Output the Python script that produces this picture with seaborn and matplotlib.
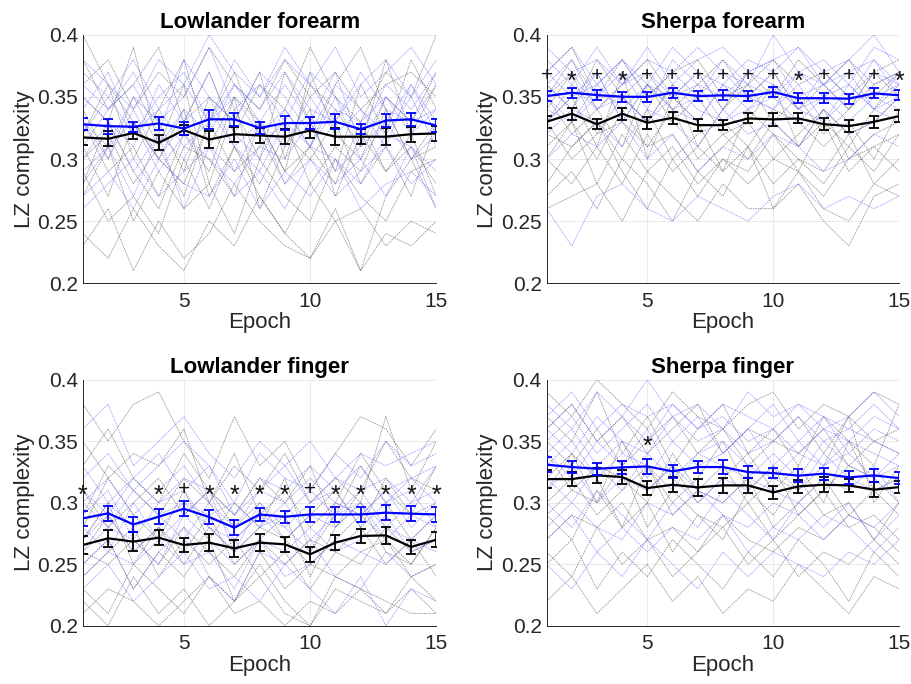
import numpy as np
import pandas as pd
import matplotlib
matplotlib.use("Agg")
import matplotlib.pyplot as plt
import seaborn as sns

epochs = list(range(1, 16))
titles = ["Lowlander forearm", "Sherpa forearm", "Lowlander finger", "Sherpa finger"]

# group means (black = one group, blue = the other)
black_mean = {
    "Lowlander forearm": [0.3174, 0.3163, 0.321, 0.313, 0.3233, 0.3157, 0.320, 0.319, 0.318, 0.323, 0.318, 0.318, 0.318, 0.320, 0.3206],
    "Sherpa forearm": [0.330, 0.3365, 0.328, 0.3365, 0.3292, 0.3332, 0.3273, 0.3273, 0.3327, 0.3319, 0.3327, 0.3281, 0.3265, 0.330, 0.3346],
    "Lowlander finger": [0.2657, 0.2711, 0.2684, 0.2716, 0.2657, 0.2676, 0.263, 0.2676, 0.2662, 0.2581, 0.2676, 0.273, 0.2735, 0.2641, 0.270],
    "Sherpa finger": [0.3192, 0.3192, 0.3222, 0.3209, 0.3119, 0.3146, 0.3125, 0.3141, 0.3141, 0.3084, 0.3133, 0.3146, 0.3141, 0.3106, 0.3127],
}
black_err = {
    "Lowlander forearm": [0.006, 0.006, 0.005, 0.006, 0.004, 0.007, 0.006, 0.006, 0.006, 0.006, 0.007, 0.006, 0.007, 0.006, 0.006],
    "Sherpa forearm": [0.005, 0.005, 0.004, 0.005, 0.005, 0.005, 0.005, 0.004, 0.004, 0.005, 0.004, 0.005, 0.005, 0.005, 0.005],
    "Lowlander finger": [0.007, 0.007, 0.008, 0.006, 0.006, 0.007, 0.007, 0.007, 0.006, 0.006, 0.006, 0.006, 0.007, 0.006, 0.006],
    "Sherpa finger": [0.007, 0.006, 0.006, 0.006, 0.006, 0.006, 0.007, 0.006, 0.006, 0.005, 0.005, 0.006, 0.005, 0.006, 0.005],
}
blue_mean = {
    "Lowlander forearm": [0.328, 0.3265, 0.326, 0.3287, 0.3246, 0.332, 0.332, 0.325, 0.329, 0.329, 0.330, 0.324, 0.331, 0.332, 0.327],
    "Sherpa forearm": [0.3507, 0.3534, 0.3515, 0.3502, 0.350, 0.3534, 0.3507, 0.3513, 0.3507, 0.354, 0.349, 0.349, 0.3486, 0.3529, 0.3513],
    "Lowlander finger": [0.2873, 0.2914, 0.2824, 0.2886, 0.2951, 0.2884, 0.2797, 0.2905, 0.2886, 0.2905, 0.2905, 0.2905, 0.2919, 0.2911, 0.2905],
    "Sherpa finger": [0.3309, 0.329, 0.3276, 0.3287, 0.3295, 0.3255, 0.329, 0.329, 0.3249, 0.3241, 0.322, 0.3236, 0.3206, 0.3222, 0.320],
}
blue_err = {
    "Lowlander forearm": [0.005, 0.006, 0.004, 0.005, 0.005, 0.0075, 0.005, 0.005, 0.006, 0.005, 0.006, 0.004, 0.005, 0.005, 0.005],
    "Sherpa forearm": [0.004, 0.004, 0.004, 0.004, 0.004, 0.004, 0.004, 0.004, 0.004, 0.004, 0.004, 0.004, 0.004, 0.004, 0.004],
    "Lowlander finger": [0.006, 0.006, 0.006, 0.006, 0.006, 0.006, 0.006, 0.005, 0.005, 0.006, 0.006, 0.006, 0.006, 0.006, 0.006],
    "Sherpa finger": [0.006, 0.005, 0.005, 0.005, 0.006, 0.005, 0.005, 0.006, 0.005, 0.004, 0.005, 0.005, 0.005, 0.005, 0.005],
}

# significance markers per epoch ("" = none) and their height
sig_marks = {
    "Lowlander forearm": [""] * 15,
    "Sherpa forearm": ["+", "*", "+", "*", "+", "+", "+", "+", "+", "+", "*", "+", "+", "+", "*"],
    "Lowlander finger": ["*", "", "", "*", "+", "*", "*", "*", "*", "+", "*", "*", "*", "*", "*"],
    "Sherpa finger": ["", "", "", "", "*", "", "", "", "", "", "", "", "", "", ""],
}
sig_y = {"Lowlander forearm": 0.37, "Sherpa forearm": 0.369, "Lowlander finger": 0.312, "Sherpa finger": 0.352}

# individual subjects (estimated traces)
black_subj = {
    "Lowlander forearm": [
        [0.35, 0.33, 0.39, 0.31, 0.36, 0.28, 0.34, 0.30, 0.37, 0.33, 0.29, 0.36, 0.32, 0.38, 0.34],
        [0.29, 0.25, 0.27, 0.24, 0.30, 0.26, 0.31, 0.27, 0.24, 0.28, 0.25, 0.21, 0.27, 0.30, 0.26],
        [0.32, 0.36, 0.30, 0.34, 0.38, 0.31, 0.35, 0.33, 0.29, 0.37, 0.32, 0.30, 0.35, 0.33, 0.37],
        [0.24, 0.22, 0.26, 0.23, 0.21, 0.25, 0.23, 0.27, 0.24, 0.22, 0.25, 0.26, 0.23, 0.25, 0.24],
        [0.38, 0.34, 0.36, 0.39, 0.33, 0.37, 0.32, 0.36, 0.34, 0.39, 0.35, 0.33, 0.37, 0.35, 0.40],
        [0.30, 0.32, 0.28, 0.31, 0.27, 0.33, 0.29, 0.31, 0.33, 0.28, 0.31, 0.29, 0.34, 0.30, 0.31],
        [0.33, 0.29, 0.31, 0.27, 0.32, 0.29, 0.35, 0.26, 0.31, 0.34, 0.27, 0.32, 0.29, 0.31, 0.28],
        [0.36, 0.38, 0.34, 0.37, 0.35, 0.39, 0.36, 0.34, 0.38, 0.35, 0.37, 0.34, 0.36, 0.37, 0.35],
        [0.27, 0.31, 0.25, 0.29, 0.26, 0.28, 0.24, 0.30, 0.27, 0.25, 0.30, 0.27, 0.25, 0.29, 0.30],
        [0.31, 0.27, 0.33, 0.30, 0.34, 0.27, 0.31, 0.28, 0.32, 0.30, 0.33, 0.28, 0.31, 0.27, 0.33],
        [0.40, 0.36, 0.33, 0.30, 0.28, 0.33, 0.37, 0.32, 0.28, 0.31, 0.36, 0.39, 0.34, 0.30, 0.33],
        [0.23, 0.26, 0.21, 0.25, 0.22, 0.24, 0.28, 0.25, 0.23, 0.22, 0.26, 0.21, 0.24, 0.23, 0.25],
        [0.34, 0.30, 0.35, 0.33, 0.29, 0.35, 0.33, 0.37, 0.30, 0.36, 0.34, 0.31, 0.38, 0.32, 0.36],
        [0.28, 0.33, 0.29, 0.26, 0.31, 0.30, 0.27, 0.33, 0.29, 0.31, 0.28, 0.33, 0.29, 0.32, 0.27],
    ],
    "Sherpa forearm": [
        [0.34, 0.37, 0.32, 0.35, 0.33, 0.36, 0.31, 0.34, 0.36, 0.33, 0.35, 0.32, 0.34, 0.37, 0.35],
        [0.27, 0.29, 0.26, 0.30, 0.28, 0.25, 0.29, 0.27, 0.31, 0.26, 0.28, 0.25, 0.23, 0.27, 0.28],
        [0.36, 0.34, 0.38, 0.35, 0.37, 0.34, 0.36, 0.38, 0.35, 0.37, 0.34, 0.36, 0.38, 0.35, 0.37],
        [0.31, 0.33, 0.30, 0.34, 0.31, 0.32, 0.29, 0.31, 0.33, 0.30, 0.32, 0.34, 0.30, 0.32, 0.33],
        [0.33, 0.35, 0.31, 0.37, 0.30, 0.35, 0.33, 0.29, 0.34, 0.32, 0.29, 0.33, 0.31, 0.34, 0.36],
        [0.26, 0.27, 0.28, 0.25, 0.29, 0.27, 0.25, 0.28, 0.26, 0.26, 0.29, 0.26, 0.25, 0.28, 0.27],
        [0.35, 0.32, 0.34, 0.31, 0.36, 0.33, 0.35, 0.32, 0.33, 0.36, 0.31, 0.34, 0.32, 0.33, 0.35],
        [0.30, 0.33, 0.28, 0.32, 0.29, 0.31, 0.28, 0.30, 0.29, 0.32, 0.30, 0.28, 0.31, 0.29, 0.32],
        [0.37, 0.39, 0.35, 0.38, 0.35, 0.37, 0.38, 0.35, 0.36, 0.38, 0.36, 0.37, 0.35, 0.37, 0.38],
        [0.32, 0.31, 0.33, 0.30, 0.34, 0.30, 0.32, 0.33, 0.31, 0.34, 0.33, 0.31, 0.33, 0.30, 0.34],
        [0.28, 0.31, 0.33, 0.29, 0.26, 0.30, 0.27, 0.30, 0.28, 0.30, 0.29, 0.27, 0.30, 0.31, 0.29],
        [0.35, 0.38, 0.34, 0.36, 0.38, 0.35, 0.37, 0.34, 0.37, 0.35, 0.38, 0.36, 0.34, 0.36, 0.37],
        [0.33, 0.30, 0.32, 0.33, 0.31, 0.34, 0.30, 0.32, 0.30, 0.33, 0.31, 0.33, 0.29, 0.31, 0.32],
        [0.30, 0.28, 0.31, 0.28, 0.32, 0.29, 0.31, 0.29, 0.31, 0.28, 0.30, 0.29, 0.32, 0.28, 0.30],
    ],
    "Lowlander finger": [
        [0.38, 0.35, 0.38, 0.39, 0.35, 0.32, 0.37, 0.33, 0.35, 0.31, 0.34, 0.37, 0.36, 0.33, 0.36],
        [0.22, 0.20, 0.24, 0.21, 0.23, 0.20, 0.22, 0.24, 0.21, 0.20, 0.23, 0.22, 0.21, 0.23, 0.21],
        [0.27, 0.30, 0.25, 0.28, 0.26, 0.29, 0.25, 0.27, 0.29, 0.24, 0.28, 0.30, 0.26, 0.25, 0.28],
        [0.25, 0.27, 0.23, 0.26, 0.24, 0.27, 0.22, 0.26, 0.23, 0.25, 0.24, 0.26, 0.27, 0.24, 0.25],
        [0.31, 0.28, 0.30, 0.32, 0.29, 0.31, 0.28, 0.30, 0.27, 0.29, 0.31, 0.28, 0.32, 0.29, 0.30],
        [0.24, 0.26, 0.28, 0.24, 0.27, 0.25, 0.27, 0.24, 0.26, 0.23, 0.26, 0.28, 0.25, 0.27, 0.24],
        [0.29, 0.33, 0.31, 0.29, 0.32, 0.30, 0.34, 0.29, 0.31, 0.28, 0.30, 0.34, 0.31, 0.29, 0.33],
        [0.21, 0.23, 0.22, 0.20, 0.22, 0.24, 0.21, 0.22, 0.20, 0.22, 0.21, 0.23, 0.22, 0.21, 0.21],
        [0.26, 0.25, 0.27, 0.25, 0.28, 0.26, 0.24, 0.27, 0.25, 0.27, 0.26, 0.25, 0.28, 0.26, 0.27],
        [0.33, 0.36, 0.32, 0.30, 0.34, 0.31, 0.29, 0.32, 0.30, 0.33, 0.28, 0.31, 0.35, 0.32, 0.31],
        [0.28, 0.32, 0.29, 0.27, 0.31, 0.27, 0.30, 0.28, 0.32, 0.26, 0.29, 0.33, 0.30, 0.27, 0.29],
        [0.23, 0.21, 0.25, 0.23, 0.21, 0.24, 0.22, 0.25, 0.22, 0.20, 0.24, 0.23, 0.21, 0.24, 0.22],
        [0.26, 0.29, 0.26, 0.28, 0.25, 0.28, 0.26, 0.28, 0.27, 0.25, 0.27, 0.29, 0.27, 0.25, 0.28],
        [0.35, 0.32, 0.34, 0.33, 0.36, 0.30, 0.33, 0.31, 0.34, 0.30, 0.32, 0.30, 0.37, 0.31, 0.35],
    ],
    "Sherpa finger": [
        [0.37, 0.35, 0.39, 0.34, 0.37, 0.33, 0.36, 0.38, 0.34, 0.36, 0.33, 0.37, 0.35, 0.33, 0.38],
        [0.25, 0.27, 0.23, 0.26, 0.24, 0.27, 0.25, 0.23, 0.26, 0.24, 0.27, 0.25, 0.22, 0.26, 0.24],
        [0.32, 0.34, 0.30, 0.35, 0.31, 0.33, 0.30, 0.32, 0.34, 0.31, 0.33, 0.30, 0.35, 0.31, 0.32],
        [0.29, 0.27, 0.31, 0.28, 0.30, 0.26, 0.29, 0.28, 0.30, 0.27, 0.29, 0.31, 0.28, 0.29, 0.27],
        [0.36, 0.38, 0.35, 0.37, 0.34, 0.36, 0.38, 0.34, 0.36, 0.35, 0.37, 0.34, 0.37, 0.35, 0.36],
        [0.22, 0.24, 0.21, 0.23, 0.25, 0.22, 0.24, 0.21, 0.23, 0.22, 0.25, 0.23, 0.21, 0.24, 0.23],
        [0.34, 0.31, 0.33, 0.32, 0.30, 0.34, 0.31, 0.33, 0.30, 0.32, 0.31, 0.33, 0.37, 0.30, 0.33],
        [0.30, 0.32, 0.29, 0.31, 0.33, 0.29, 0.31, 0.30, 0.32, 0.28, 0.30, 0.32, 0.29, 0.31, 0.29],
        [0.39, 0.37, 0.40, 0.38, 0.36, 0.39, 0.37, 0.36, 0.38, 0.39, 0.36, 0.38, 0.37, 0.39, 0.38],
        [0.27, 0.29, 0.28, 0.30, 0.27, 0.28, 0.26, 0.29, 0.27, 0.26, 0.28, 0.27, 0.29, 0.28, 0.26],
        [0.31, 0.34, 0.32, 0.28, 0.33, 0.30, 0.32, 0.35, 0.31, 0.33, 0.29, 0.31, 0.33, 0.32, 0.30],
        [0.26, 0.24, 0.28, 0.25, 0.27, 0.24, 0.26, 0.28, 0.25, 0.27, 0.24, 0.26, 0.25, 0.27, 0.25],
        [0.35, 0.33, 0.36, 0.33, 0.35, 0.37, 0.34, 0.36, 0.33, 0.35, 0.34, 0.36, 0.33, 0.35, 0.34],
        [0.29, 0.31, 0.30, 0.33, 0.28, 0.31, 0.29, 0.27, 0.31, 0.29, 0.32, 0.29, 0.30, 0.27, 0.30],
    ],
}
blue_subj = {
    "Lowlander forearm": [
        [0.36, 0.34, 0.37, 0.33, 0.35, 0.39, 0.34, 0.36, 0.33, 0.37, 0.35, 0.32, 0.36, 0.34, 0.37],
        [0.30, 0.33, 0.29, 0.32, 0.30, 0.34, 0.31, 0.29, 0.33, 0.31, 0.30, 0.28, 0.32, 0.31, 0.29],
        [0.33, 0.31, 0.35, 0.31, 0.34, 0.32, 0.36, 0.33, 0.31, 0.35, 0.32, 0.34, 0.31, 0.36, 0.33],
        [0.27, 0.29, 0.26, 0.30, 0.28, 0.27, 0.30, 0.26, 0.29, 0.27, 0.30, 0.26, 0.28, 0.29, 0.27],
        [0.38, 0.36, 0.34, 0.38, 0.36, 0.40, 0.37, 0.35, 0.38, 0.36, 0.39, 0.35, 0.37, 0.39, 0.36],
        [0.32, 0.35, 0.32, 0.34, 0.31, 0.33, 0.35, 0.32, 0.34, 0.31, 0.34, 0.33, 0.35, 0.32, 0.34],
        [0.29, 0.31, 0.33, 0.29, 0.32, 0.30, 0.28, 0.31, 0.30, 0.33, 0.29, 0.31, 0.33, 0.30, 0.32],
        [0.35, 0.33, 0.31, 0.36, 0.33, 0.35, 0.33, 0.37, 0.35, 0.32, 0.36, 0.34, 0.32, 0.35, 0.31],
        [0.26, 0.28, 0.30, 0.27, 0.29, 0.31, 0.27, 0.29, 0.26, 0.30, 0.28, 0.30, 0.27, 0.31, 0.26],
        [0.34, 0.37, 0.32, 0.35, 0.37, 0.33, 0.36, 0.34, 0.37, 0.34, 0.33, 0.37, 0.34, 0.33, 0.36],
        [0.31, 0.34, 0.36, 0.32, 0.38, 0.35, 0.31, 0.33, 0.36, 0.33, 0.37, 0.31, 0.35, 0.33, 0.34],
        [0.37, 0.35, 0.38, 0.34, 0.36, 0.33, 0.38, 0.35, 0.39, 0.36, 0.33, 0.36, 0.38, 0.35, 0.38],
        [0.28, 0.31, 0.27, 0.32, 0.26, 0.31, 0.29, 0.33, 0.28, 0.30, 0.27, 0.29, 0.31, 0.28, 0.30],
        [0.33, 0.30, 0.34, 0.30, 0.33, 0.37, 0.32, 0.30, 0.34, 0.31, 0.35, 0.30, 0.33, 0.36, 0.32],
    ],
    "Sherpa forearm": [
        [0.36, 0.38, 0.35, 0.37, 0.34, 0.38, 0.36, 0.35, 0.37, 0.38, 0.35, 0.36, 0.34, 0.37, 0.36],
        [0.33, 0.35, 0.37, 0.33, 0.36, 0.34, 0.33, 0.36, 0.34, 0.35, 0.33, 0.35, 0.37, 0.34, 0.33],
        [0.38, 0.36, 0.39, 0.36, 0.38, 0.37, 0.39, 0.37, 0.36, 0.40, 0.37, 0.38, 0.36, 0.39, 0.38],
        [0.34, 0.33, 0.35, 0.35, 0.33, 0.36, 0.34, 0.33, 0.35, 0.34, 0.36, 0.33, 0.35, 0.35, 0.34],
        [0.26, 0.23, 0.27, 0.28, 0.26, 0.25, 0.27, 0.26, 0.25, 0.27, 0.28, 0.26, 0.27, 0.26, 0.27],
        [0.37, 0.35, 0.36, 0.38, 0.35, 0.37, 0.35, 0.38, 0.36, 0.35, 0.37, 0.36, 0.38, 0.36, 0.37],
        [0.35, 0.37, 0.34, 0.36, 0.37, 0.35, 0.37, 0.34, 0.37, 0.36, 0.34, 0.37, 0.35, 0.38, 0.35],
        [0.32, 0.34, 0.33, 0.31, 0.34, 0.33, 0.31, 0.34, 0.32, 0.33, 0.31, 0.34, 0.32, 0.33, 0.35],
        [0.39, 0.37, 0.38, 0.36, 0.39, 0.36, 0.38, 0.39, 0.37, 0.38, 0.39, 0.37, 0.38, 0.40, 0.37],
        [0.30, 0.32, 0.31, 0.33, 0.30, 0.32, 0.29, 0.31, 0.30, 0.32, 0.31, 0.29, 0.30, 0.32, 0.31],
        [0.35, 0.33, 0.36, 0.34, 0.36, 0.35, 0.33, 0.36, 0.35, 0.37, 0.34, 0.35, 0.33, 0.35, 0.36],
        [0.37, 0.39, 0.36, 0.38, 0.36, 0.39, 0.37, 0.36, 0.38, 0.37, 0.39, 0.36, 0.37, 0.38, 0.36],
        [0.33, 0.36, 0.34, 0.35, 0.33, 0.35, 0.36, 0.33, 0.34, 0.36, 0.34, 0.33, 0.36, 0.34, 0.35],
        [0.36, 0.34, 0.37, 0.33, 0.36, 0.34, 0.35, 0.37, 0.35, 0.34, 0.37, 0.35, 0.36, 0.34, 0.37],
    ],
    "Lowlander finger": [
        [0.36, 0.38, 0.33, 0.35, 0.37, 0.34, 0.32, 0.35, 0.33, 0.35, 0.32, 0.34, 0.33, 0.34, 0.35],
        [0.25, 0.27, 0.23, 0.26, 0.28, 0.24, 0.22, 0.26, 0.25, 0.27, 0.24, 0.23, 0.26, 0.24, 0.25],
        [0.30, 0.32, 0.29, 0.31, 0.33, 0.30, 0.28, 0.31, 0.30, 0.32, 0.30, 0.29, 0.31, 0.32, 0.30],
        [0.28, 0.26, 0.30, 0.27, 0.29, 0.31, 0.26, 0.28, 0.30, 0.27, 0.29, 0.31, 0.28, 0.27, 0.29],
        [0.32, 0.34, 0.31, 0.33, 0.35, 0.33, 0.30, 0.34, 0.32, 0.31, 0.34, 0.32, 0.35, 0.33, 0.34],
        [0.23, 0.25, 0.22, 0.24, 0.26, 0.23, 0.24, 0.22, 0.25, 0.23, 0.21, 0.24, 0.20, 0.23, 0.22],
        [0.29, 0.31, 0.27, 0.30, 0.31, 0.28, 0.26, 0.30, 0.28, 0.30, 0.31, 0.28, 0.30, 0.31, 0.28],
        [0.26, 0.28, 0.27, 0.25, 0.29, 0.27, 0.25, 0.27, 0.26, 0.28, 0.26, 0.27, 0.29, 0.26, 0.27],
        [0.31, 0.29, 0.32, 0.30, 0.32, 0.31, 0.29, 0.31, 0.33, 0.30, 0.32, 0.31, 0.32, 0.30, 0.33],
        [0.27, 0.30, 0.28, 0.29, 0.27, 0.30, 0.27, 0.29, 0.27, 0.29, 0.28, 0.30, 0.27, 0.29, 0.28],
        [0.33, 0.30, 0.32, 0.34, 0.31, 0.33, 0.29, 0.32, 0.31, 0.33, 0.31, 0.33, 0.30, 0.32, 0.33],
        [0.24, 0.26, 0.25, 0.27, 0.25, 0.26, 0.23, 0.27, 0.24, 0.25, 0.27, 0.26, 0.25, 0.27, 0.26],
        [0.30, 0.28, 0.31, 0.29, 0.30, 0.29, 0.30, 0.28, 0.29, 0.31, 0.29, 0.30, 0.28, 0.30, 0.31],
        [0.27, 0.29, 0.26, 0.28, 0.30, 0.28, 0.27, 0.29, 0.28, 0.26, 0.30, 0.29, 0.31, 0.28, 0.30],
    ],
    "Sherpa finger": [
        [0.35, 0.37, 0.34, 0.36, 0.38, 0.35, 0.37, 0.34, 0.36, 0.38, 0.35, 0.37, 0.34, 0.36, 0.35],
        [0.30, 0.28, 0.31, 0.29, 0.27, 0.30, 0.28, 0.31, 0.29, 0.27, 0.30, 0.28, 0.30, 0.27, 0.29],
        [0.38, 0.36, 0.39, 0.37, 0.40, 0.37, 0.38, 0.36, 0.39, 0.37, 0.38, 0.36, 0.37, 0.39, 0.37],
        [0.33, 0.35, 0.32, 0.34, 0.33, 0.31, 0.34, 0.33, 0.32, 0.34, 0.32, 0.35, 0.33, 0.32, 0.33],
        [0.25, 0.23, 0.26, 0.24, 0.27, 0.25, 0.23, 0.26, 0.24, 0.26, 0.25, 0.24, 0.26, 0.25, 0.27],
        [0.36, 0.34, 0.37, 0.35, 0.34, 0.37, 0.35, 0.36, 0.34, 0.35, 0.37, 0.35, 0.36, 0.35, 0.34],
        [0.31, 0.33, 0.30, 0.32, 0.31, 0.33, 0.31, 0.30, 0.32, 0.31, 0.30, 0.32, 0.31, 0.33, 0.30],
        [0.28, 0.30, 0.28, 0.27, 0.30, 0.29, 0.31, 0.29, 0.28, 0.30, 0.29, 0.27, 0.29, 0.28, 0.30],
        [0.34, 0.32, 0.35, 0.33, 0.36, 0.32, 0.34, 0.35, 0.33, 0.32, 0.34, 0.33, 0.35, 0.34, 0.33],
        [0.37, 0.39, 0.36, 0.38, 0.37, 0.38, 0.36, 0.38, 0.37, 0.36, 0.38, 0.37, 0.36, 0.38, 0.36],
        [0.32, 0.30, 0.33, 0.31, 0.34, 0.32, 0.30, 0.32, 0.31, 0.33, 0.31, 0.34, 0.32, 0.31, 0.32],
        [0.27, 0.29, 0.26, 0.28, 0.26, 0.28, 0.27, 0.29, 0.26, 0.28, 0.27, 0.29, 0.28, 0.26, 0.28],
        [0.36, 0.38, 0.35, 0.37, 0.35, 0.38, 0.36, 0.37, 0.35, 0.36, 0.34, 0.36, 0.35, 0.37, 0.36],
        [0.34, 0.36, 0.33, 0.35, 0.32, 0.35, 0.33, 0.34, 0.36, 0.33, 0.35, 0.33, 0.34, 0.32, 0.34],
    ],
}

sns.set_style("white")
plt.rcParams["font.family"] = ["Liberation Sans", "DejaVu Sans"]

fig = plt.figure(figsize=(9.11, 6.84), dpi=100)
positions = [
    [0.091, 0.586, 0.388, 0.363],
    [0.600, 0.586, 0.387, 0.363],
    [0.091, 0.085, 0.388, 0.360],
    [0.600, 0.085, 0.387, 0.360],
]

for title, pos in zip(titles, positions):
    ax = fig.add_axes(pos)

    rows = []
    for grp, subj in (("black", black_subj[title]), ("blue", blue_subj[title])):
        for i, vals in enumerate(subj):
            for ep, v in zip(epochs, vals):
                rows.append({"epoch": ep, "lz": v, "group": grp, "subject": f"{grp}{i}"})
    df = pd.DataFrame(rows)

    sns.lineplot(data=df, x="epoch", y="lz", hue="group", units="subject", estimator=None,
                 palette={"black": "#555555", "blue": "#6464ff"}, lw=0.6,
                 dashes=False, alpha=0.6, legend=False, ax=ax)
    for ln in ax.lines:
        ln.set_dashes((2, 1))

    ax.errorbar(epochs, black_mean[title], yerr=black_err[title], color="black", lw=1.6,
                elinewidth=1.3, capsize=3.5, capthick=1.3, zorder=5)
    ax.errorbar(epochs, blue_mean[title], yerr=blue_err[title], color="#0000ff", lw=1.6,
                elinewidth=1.3, capsize=3.5, capthick=1.3, zorder=6)

    for ep, m in zip(epochs, sig_marks[title]):
        if m == "+":
            ax.text(ep, sig_y[title] - 0.0015, m, ha="center", va="center", fontsize=15,
                    color="#111111", zorder=7, clip_on=False)
        elif m == "*":
            ax.text(ep, sig_y[title] - 0.0065, m, ha="center", va="center", fontsize=18,
                    color="#111111", zorder=7, clip_on=False)

    ax.set_xlim(1, 15)
    ax.set_ylim(0.2, 0.4)
    ax.set_xticks([5, 10, 15])
    ax.set_yticks([0.2, 0.25, 0.3, 0.35, 0.4])
    ax.set_yticklabels(["0.2", "0.25", "0.3", "0.35", "0.4"])
    ax.grid(True, color="#e6e6e6", lw=0.6)
    ax.set_axisbelow(True)
    for s in ("top", "right"):
        ax.spines[s].set_visible(False)
    for s in ("left", "bottom"):
        ax.spines[s].set_color("#262626")
        ax.spines[s].set_linewidth(0.7)
    ax.tick_params(direction="in", length=3, labelsize=15, colors="#262626")
    ax.tick_params(axis="x", pad=6)
    ax.set_title(title, fontsize=16, fontweight="bold", pad=5, color="black")
    ax.set_xlabel("Epoch", fontsize=16, labelpad=1)
    ax.set_ylabel("LZ complexity", fontsize=16, labelpad=2)

fig.savefig("out.png", dpi=100)
